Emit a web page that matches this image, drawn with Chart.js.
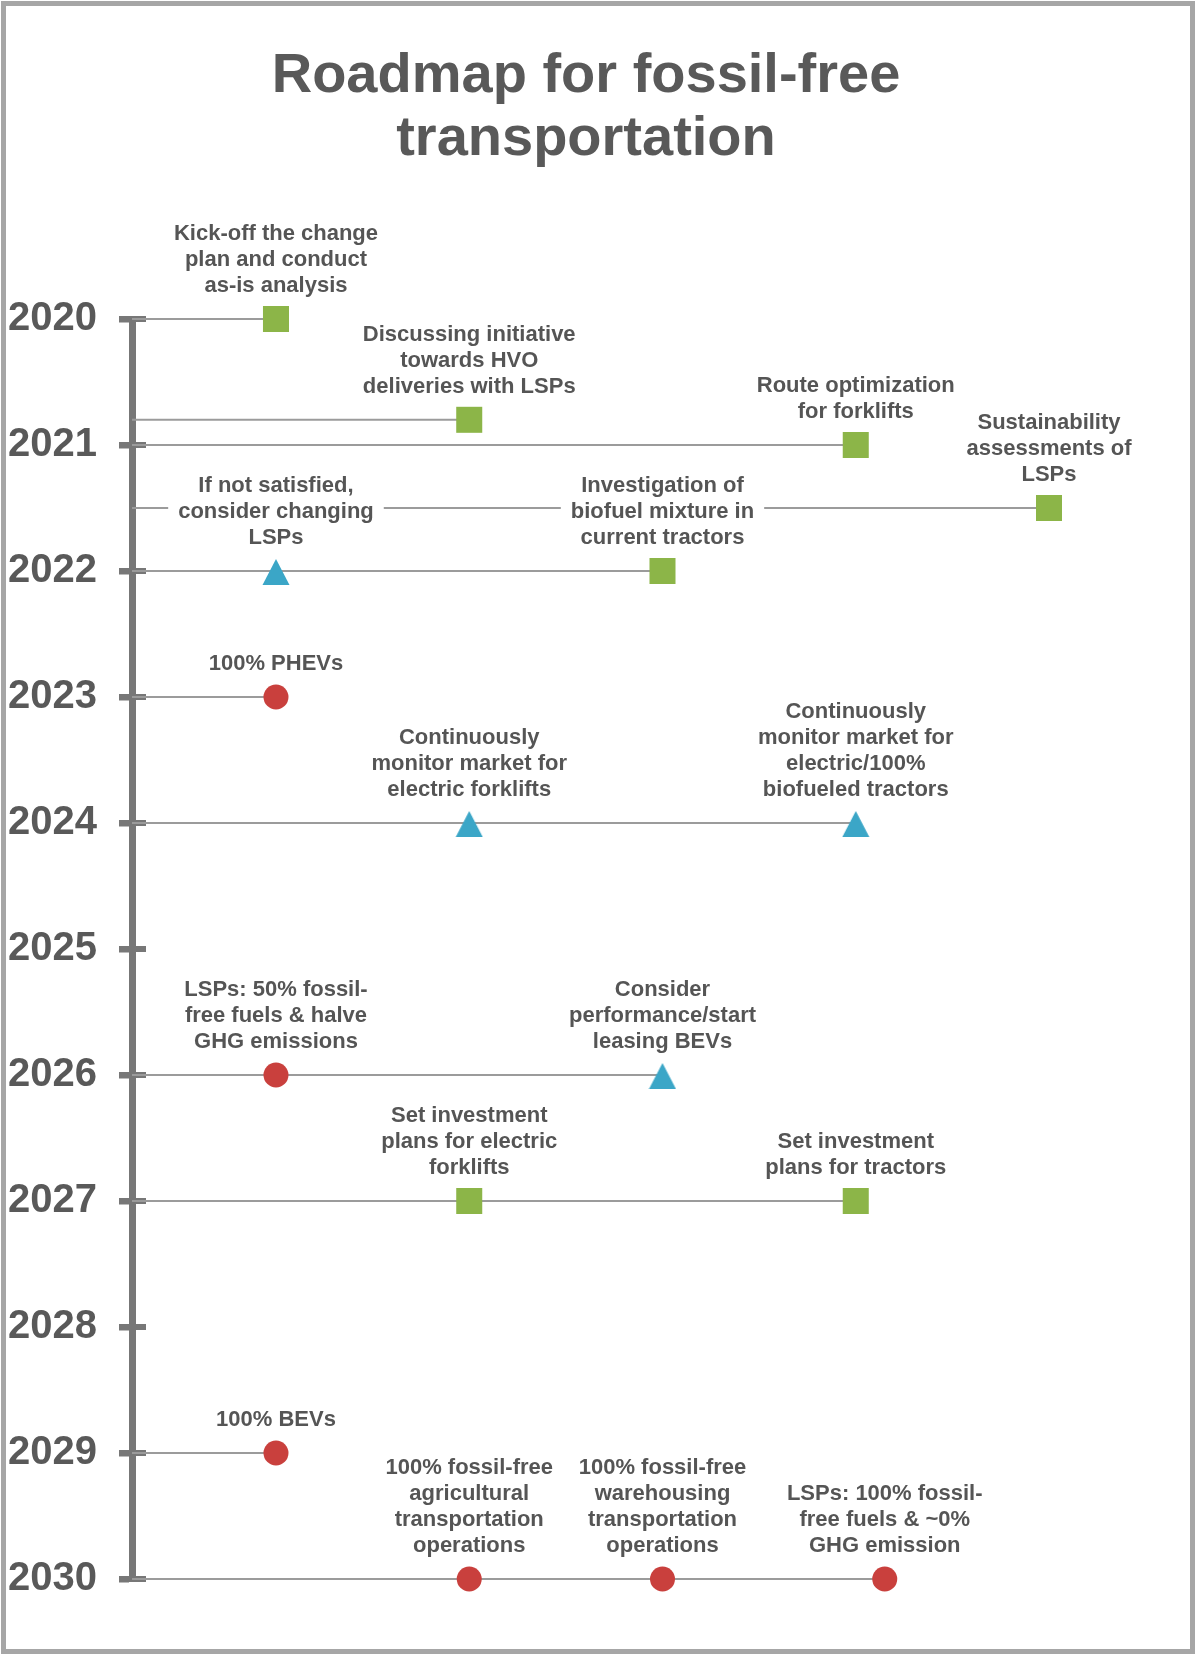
<!DOCTYPE html>
<html>
<head>
<meta charset="utf-8">
<title>Roadmap for fossil-free transportation</title>
<script src="https://cdn.jsdelivr.net/npm/chart.js@4.4.1/dist/chart.umd.min.js"></script>
<style>
  html, body { margin: 0; padding: 0; background: #fff; }
  #wrap { position: relative; width: 1195px; height: 1654px; }
  #frame { position: absolute; left: 1px; top: 1px; right: 0; bottom: 0; border: 5px solid #a6a6a6; pointer-events: none; }
  canvas { display: block; }
</style>
</head>
<body>
<div id="wrap">
  <canvas id="roadmapChart" width="1195" height="1654"></canvas>
  <div id="frame"></div>
</div>
<script>
// Years along the vertical time axis
const yearTicks = [2020, 2021, 2022, 2023, 2024, 2025, 2026, 2027, 2028, 2029, 2030];
const yearLabels = ["2020", "2021", "2022", "2023", "2024", "2025", "2026", "2027", "2028", "2029", "2030"];

// Milestones: year on the time axis, column across the page, kind and text
const milestoneYears = [2020, 2020.8, 2021, 2021.5, 2022, 2022, 2023, 2024, 2024, 2026, 2026, 2027, 2027, 2029, 2030, 2030, 2030];
const milestoneColumns = [1, 2, 4, 5, 1, 3, 1, 2, 4, 1, 3, 2, 4, 1, 2, 3, 4.15];
const milestoneKinds = ["action", "action", "action", "action", "decision", "action", "target", "decision", "decision",
                        "target", "decision", "action", "action", "target", "target", "target", "target"];
const milestoneLabels = [
  ["Kick-off the change", "plan and conduct", "as-is analysis"],
  ["Discussing initiative", "towards HVO", "deliveries with LSPs"],
  ["Route optimization", "for forklifts"],
  ["Sustainability", "assessments of", "LSPs"],
  ["If not satisfied,", "consider changing", "LSPs"],
  ["Investigation of", "biofuel mixture in", "current tractors"],
  ["100% PHEVs"],
  ["Continuously", "monitor market for", "electric forklifts"],
  ["Continuously", "monitor market for", "electric/100%", "biofueled tractors"],
  ["LSPs: 50% fossil-", "free fuels & halve", "GHG emissions"],
  ["Consider", "performance/start", "leasing BEVs"],
  ["Set investment", "plans for electric", "forklifts"],
  ["Set investment", "plans for tractors"],
  ["100% BEVs"],
  ["100% fossil-free", "agricultural", "transportation", "operations"],
  ["100% fossil-free", "warehousing", "transportation", "operations"],
  ["LSPs: 100% fossil-", "free fuels & ~0%", "GHG emission"]
];

const AXIS_X = 0.255; // column value where the time axis sits
const AXIS_COLOR = '#777777';
const TEXT_FONT = 'bold 22px "Liberation Sans", Arial, sans-serif';
const TEXT_COLOR = '#555555';

const kindStyles = {
  action:   { color: '#8cb548', style: 'rect', radius: 18.4 },
  decision: { color: '#3ba6c7', style: null, radius: 14 },
  target:   { color: '#c9403d', style: 'circle', radius: 12.5 }
};

// triangle marker used for the blue milestones
function triangleMark(color) {
  const c = document.createElement('canvas');
  c.width = 28; c.height = 28;
  const g = c.getContext('2d');
  g.fillStyle = color;
  g.beginPath();
  g.moveTo(14, 2);
  g.lineTo(27.5, 28);
  g.lineTo(0.5, 28);
  g.closePath();
  g.fill();
  return c;
}
kindStyles.decision.style = triangleMark(kindStyles.decision.color);

// one horizontal connector per row, from the axis out to the furthest milestone
const rowEnds = {};
milestoneYears.forEach((yr, i) => {
  rowEnds[yr] = Math.max(rowEnds[yr] || 0, milestoneColumns[i]);
});
const connectorSets = Object.keys(rowEnds).map(yr => ({
  data: [{ x: AXIS_X, y: Number(yr) }, { x: rowEnds[yr], y: Number(yr) }],
  showLine: true,
  borderColor: '#9b9b9b',
  borderWidth: 2,
  pointRadius: 0,
  clip: false,
  order: 1
}));

const markerSets = Object.keys(kindStyles).map(kind => {
  const s = kindStyles[kind];
  const pts = [];
  milestoneKinds.forEach((k, i) => {
    if (k === kind) pts.push({ x: milestoneColumns[i], y: milestoneYears[i] });
  });
  return {
    data: pts,
    pointStyle: s.style,
    pointRadius: s.radius,
    backgroundColor: s.color,
    borderColor: s.color,
    pointBorderWidth: 0,
    clip: false,
    order: 0
  };
});

// year tick bars crossing the time axis on both sides
const axisTicks = {
  id: 'axisTicks',
  beforeDatasetsDraw(chart) {
    const { ctx, chartArea, scales: { y } } = chart;
    ctx.save();
    ctx.fillStyle = AXIS_COLOR;
    y.ticks.forEach(t => {
      const py = y.getPixelForValue(t.value);
      ctx.fillRect(chartArea.left - 13, py - 3, 27, 6);
    });
    ctx.restore();
  }
};

// milestone captions, stacked above each marker on a white plate
const milestoneText = {
  id: 'milestoneText',
  afterDatasetsDraw(chart) {
    const { ctx, scales: { x, y } } = chart;
    ctx.save();
    ctx.font = TEXT_FONT;
    ctx.textAlign = 'center';
    ctx.textBaseline = 'middle';
    const blocks = milestoneLabels.map((lines, i) => {
      const cx = x.getPixelForValue(milestoneColumns[i]);
      const cy = y.getPixelForValue(milestoneYears[i]);
      const w = Math.max(...lines.map(l => ctx.measureText(l).width));
      const bottom = cy - 33;
      const top = bottom - (lines.length - 1) * 26;
      return { cx, top, bottom, w, lines };
    });
    ctx.fillStyle = '#ffffff';
    blocks.forEach(b => ctx.fillRect(b.cx - b.w / 2 - 10, b.top - 13, b.w + 20, b.bottom - b.top + 26));
    ctx.fillStyle = TEXT_COLOR;
    blocks.forEach(b => b.lines.forEach((l, j) => ctx.fillText(l, b.cx, b.top + j * 26)));
    ctx.restore();
  }
};

new Chart(document.getElementById('roadmapChart'), {
  type: 'scatter',
  data: { datasets: [...markerSets, ...connectorSets] },
  options: {
    responsive: false,
    animation: false,
    events: [],
    layout: { padding: { left: 8, right: 31, top: 0, bottom: 75 } },
    plugins: {
      legend: { display: false },
      tooltip: { enabled: false },
      title: {
        display: true,
        text: ['Roadmap for fossil-free', 'transportation'],
        color: '#595959',
        font: { family: '"Liberation Sans", Arial, sans-serif', size: 56, weight: 'bold', lineHeight: 63 / 56 },
        padding: { top: 45, bottom: 148 }
      }
    },
    scales: {
      x: {
        type: 'linear',
        display: false,
        min: AXIS_X,
        max: 5.595
      },
      y: {
        type: 'linear',
        reverse: true,
        min: 2020,
        max: 2030,
        afterFit(scale) { scale.width = 124; },
        border: { display: true, width: 7, color: AXIS_COLOR },
        grid: {
          drawOnChartArea: false,
          drawTicks: true,
          tickLength: 13,
          tickWidth: 6,
          tickColor: AXIS_COLOR,
          color: AXIS_COLOR
        },
        ticks: {
          stepSize: 1,
          crossAlign: 'far',
          color: '#595959',
          font: { family: '"Liberation Sans", Arial, sans-serif', size: 40, weight: 'bold' },
          callback: value => yearLabels[yearTicks.indexOf(value)]
        }
      }
    }
  },
  plugins: [axisTicks, milestoneText]
});
</script>
</body>
</html>
